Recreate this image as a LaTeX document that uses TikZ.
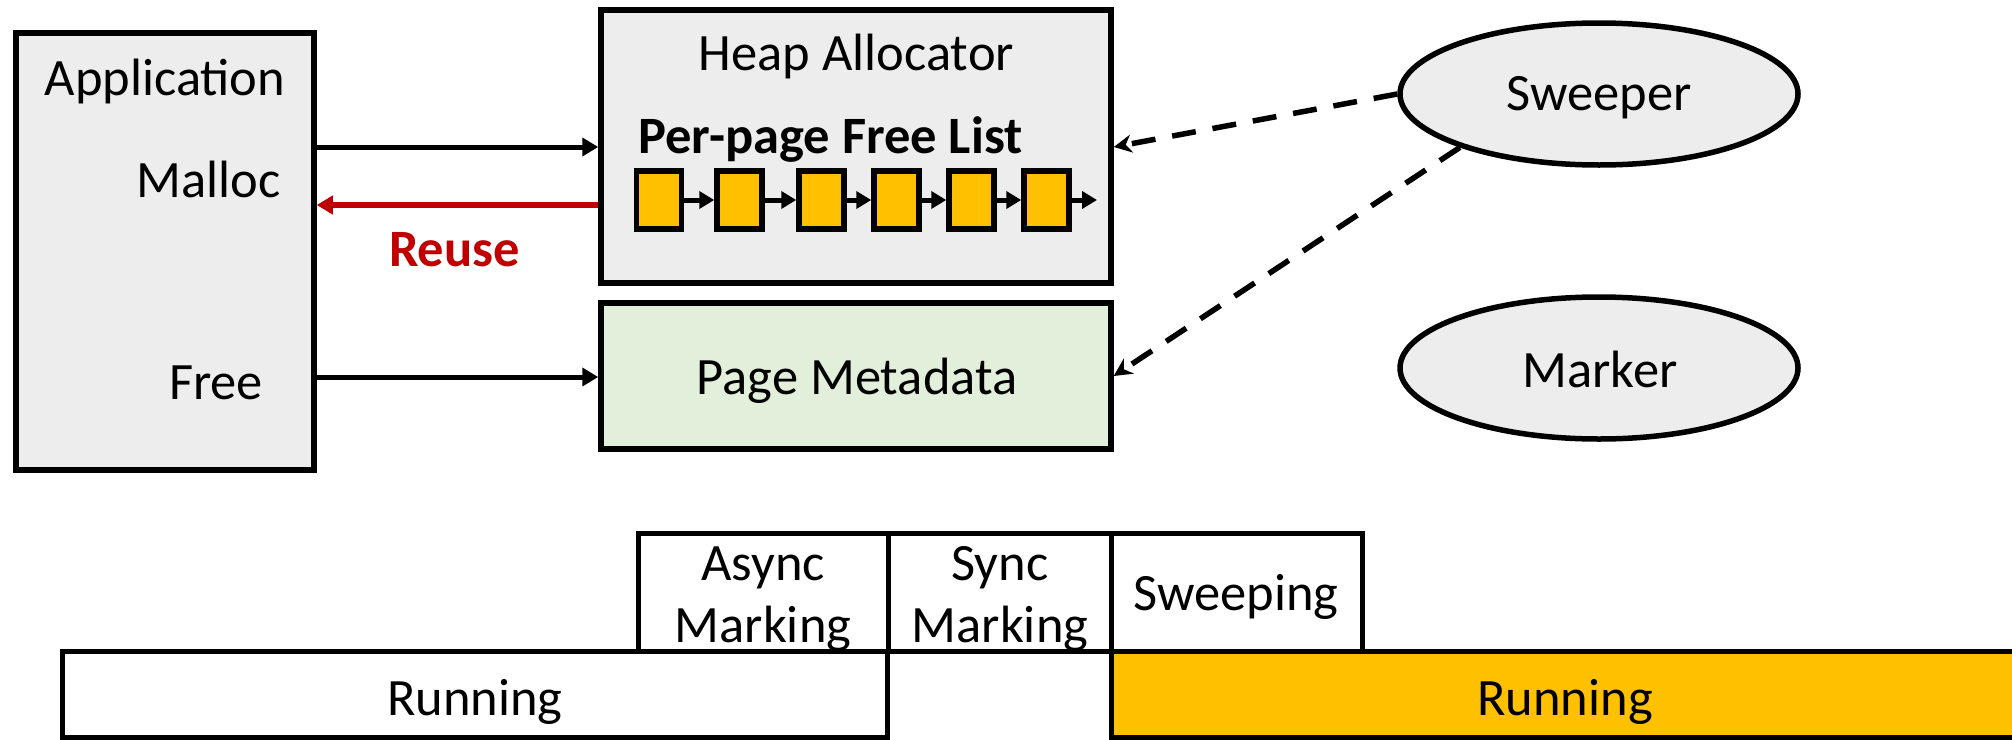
\documentclass[tikz,border=0pt]{standalone}
\usepackage{fontspec}
\setmainfont{Carlito}
\usetikzlibrary{arrows.meta,shapes.geometric}
\definecolor{boxgray}{HTML}{EDEDED}
\definecolor{metagreen}{HTML}{E2EFDA}
\definecolor{listyellow}{HTML}{FFC000}
\definecolor{reusered}{HTML}{C00000}
\begin{document}
\begin{tikzpicture}[x=1pt,y=-1pt,
  box/.style={draw=black,line width=5.5pt,fill=boxgray,rectangle,inner sep=0pt},
  oval/.style={draw=black,line width=5.5pt,fill=boxgray,ellipse,inner sep=0pt,minimum width=398pt,minimum height=142pt},
  item/.style={draw=black,line width=5.5pt,fill=listyellow,rectangle,inner sep=0pt,minimum width=45pt,minimum height=58pt},
  phase/.style={draw=black,line width=5pt,fill=white,rectangle,inner sep=0pt},
  txt/.style={font=\fontsize{52.5}{63}\selectfont,inner sep=0pt,anchor=base},
  btxt/.style={font=\fontsize{52.5}{63}\selectfont\bfseries,inner sep=0pt,anchor=base},
  arr/.style={draw=black,line width=5pt,-{Triangle[length=16pt,width=18pt]}},
  redarr/.style={draw=reusered,line width=5.5pt,-{Triangle[length=16pt,width=18pt]}},
  listarr/.style={draw=black,line width=5pt,-{Triangle[length=15pt,width=17pt]}},
  dasharr/.style={draw=black,line width=5.5pt,dash pattern=on 24pt off 17pt,-{Stealth[length=18pt,width=18pt]}}]
\useasboundingbox (0,0) rectangle (2012,739);
\clip (0,0) rectangle (2012,739);

% main boxes
\node[box,minimum width=298pt,minimum height=437pt] (app) at (165,251.5) {};
\node[box,minimum width=510pt,minimum height=273pt] (heap) at (856,146.5) {};
\node[box,fill=metagreen,minimum width=510pt,minimum height=146pt] (meta) at (856,376) {};
\node[oval] (sweeper) at (1599,94) {};
\node[oval] (marker) at (1599,368) {};

% texts
\node[txt] (tapp) at (165,95) {Application};
\node[txt] (tmalloc) at (208.5,197) {Malloc};
\node[txt] (tfree) at (216,399) {Free};
\node[txt] (theap) at (856.5,70) {Heap Allocator};
\node[btxt,anchor=base west] (tlist) at (638,153) {Per-page Free List};
\node[btxt,text=reusered] (treuse) at (454.5,266) {Reuse};
\node[txt] (tmeta) at (857,394) {Page Metadata};
\node[txt] (tsweeper) at (1599,110) {Sweeper};
\node[txt] (tmarker) at (1600,387) {Marker};

% free list
\node[item] (f1) at (659,200) {};
\node[item] (f2) at (739.5,200) {};
\node[item] (f3) at (821.5,200) {};
\node[item] (f4) at (896.5,200) {};
\node[item] (f5) at (971.5,200) {};
\node[item] (f6) at (1046.5,200) {};
\coordinate (fend) at (1097,200);
\draw[listarr] (f1.east) -- (f2.west);
\draw[listarr] (f2.east) -- (f3.west);
\draw[listarr] (f3.east) -- (f4.west);
\draw[listarr] (f4.east) -- (f5.west);
\draw[listarr] (f5.east) -- (f6.west);
\draw[listarr] (f6.east) -- (fend);

% connectors
\coordinate (ymalloc) at (0,147);
\coordinate (yreuse) at (0,205);
\coordinate (yfree) at (0,377);
\coordinate (ydash) at (0,147);
\coordinate (ydash2) at (0,376);
\draw[arr] (app.east |- ymalloc) -- (heap.west |- ymalloc);
\draw[redarr] (heap.west |- yreuse) -- (app.east |- yreuse);
\draw[arr] (app.east |- yfree) -- (meta.west |- yfree);
\draw[dasharr] (sweeper.west) -- (heap.east |- ydash);
\draw[dasharr] (sweeper.201) -- (meta.east |- ydash2);

% timeline
\node[phase,minimum width=825pt,minimum height=86pt] (runw) at (474.5,694) {};
\node[phase,fill=listyellow,minimum width=919pt,minimum height=86pt] (runy) at (1570.5,694) {};
\node[phase,minimum width=250pt,minimum height=118pt] (async) at (763,592) {};
\node[phase,minimum width=223pt,minimum height=118pt] (sync) at (999.5,592) {};
\node[phase,minimum width=251pt,minimum height=118pt] (sweeping) at (1236.5,592) {};

\node[txt] (tasync1) at (763,580) {Async};
\node[txt] (tasync2) at (763,642) {Marking};
\node[txt] (tsync1) at (1000,580) {Sync};
\node[txt] (tsync2) at (1000,642) {Marking};
\node[txt] (tsweeping) at (1236,610) {Sweeping};
\node[txt] (trunw) at (475,715) {Running};
\node[txt] (truny) at (1565,715) {Running};
\end{tikzpicture}
\end{document}
